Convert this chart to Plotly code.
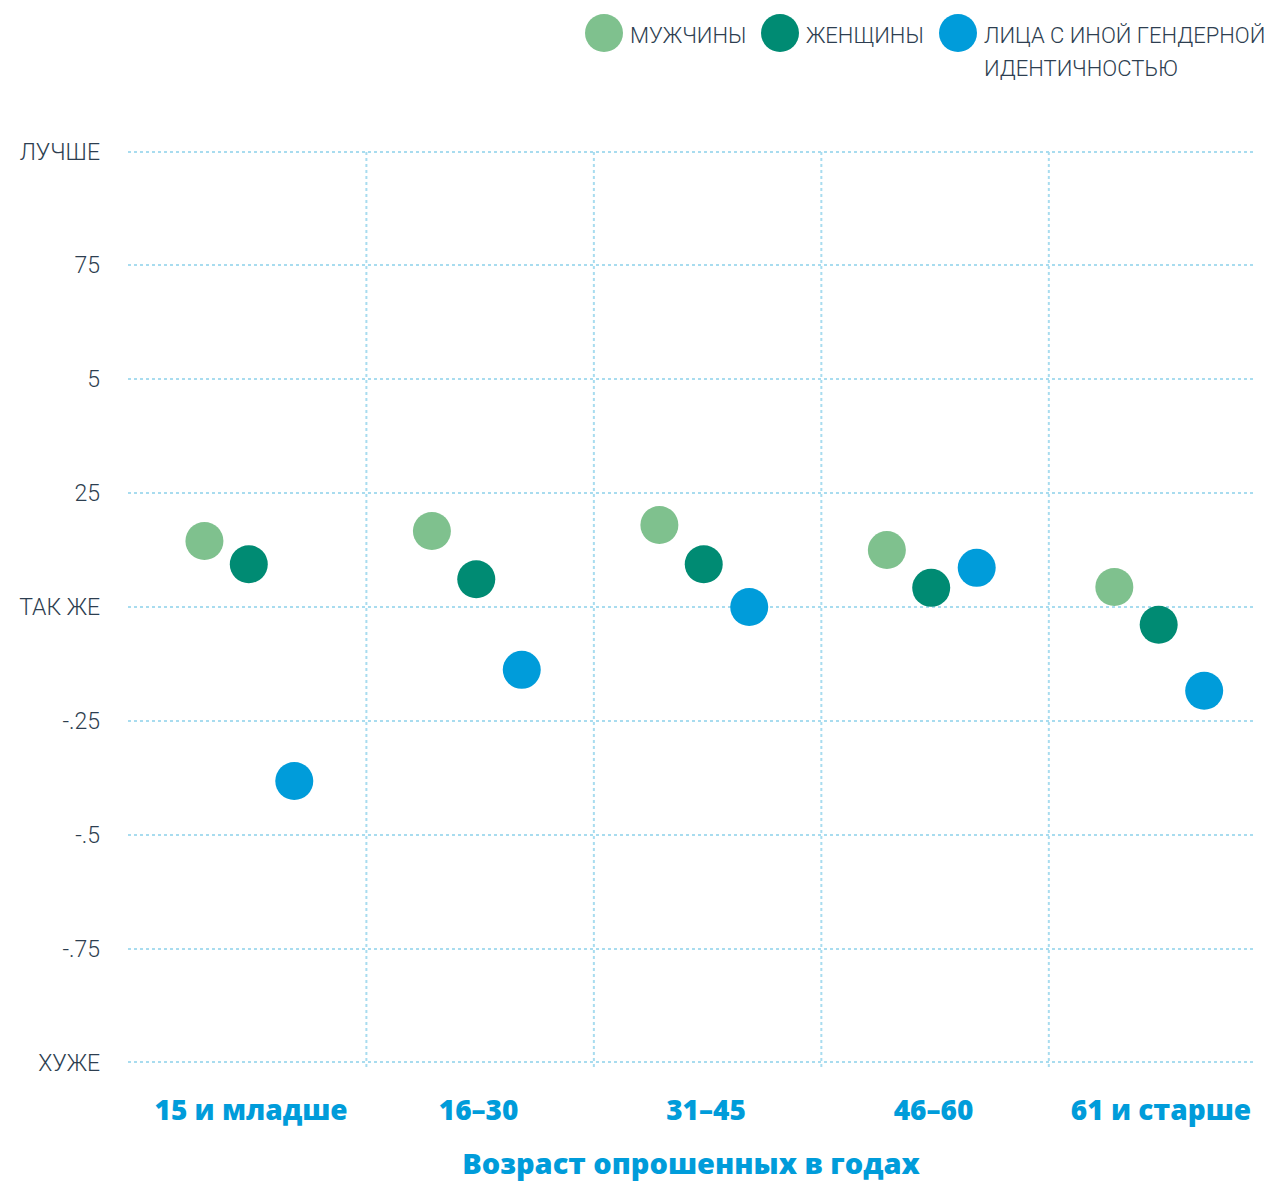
import plotly.graph_objects as go

categories = ["15 и младше", "16–30", "31–45", "46–60", "61 и старше"]
series_names = ["МУЖЧИНЫ", "ЖЕНЩИНЫ", "ЛИЦА С ИНОЙ ГЕНДЕРНОЙ<br>ИДЕНТИЧНОСТЬЮ"]
men = [0.145, 0.167, 0.180, 0.125, 0.044]
women = [0.094, 0.061, 0.094, 0.042, -0.039]
other = [-0.382, -0.138, 0.000, 0.086, -0.184]
y_tickvals = [1, 0.75, 0.5, 0.25, 0, -0.25, -0.5, -0.75, -1]
y_ticktext = ["ЛУЧШЕ", "75", "5", "25", "ТАК ЖЕ", "-.25", "-.5", "-.75", "ХУЖЕ"]

colors = ["#7fc18e", "#008b73", "#009cda"]
offsets = [-0.205, -0.01, 0.19]
series = [men, women, other]

W, H = 1270, 1174
ML, MR, MT, MB = 120, 24, 139, 115
PW, PH = W - ML - MR, H - MT - MB
OFF = 8  # page body margin

tick_font = dict(family="Roboto, sans-serif", size=23, color="#2d3e50", weight=300)
leg_font = dict(family="Roboto, sans-serif", size=22, color="#2d3e50", weight=300)
bold_font = dict(family="Open Sans, sans-serif", size=28, color="#009cda", weight=800)
title_font = dict(family="Open Sans, sans-serif", size=29, color="#009cda", weight=800)

fig = go.Figure()
for vals, off, col, name in zip(series, offsets, colors, series_names):
    fig.add_trace(go.Scatter(
        x=[i + off for i in range(len(categories))], y=vals,
        mode="markers", name=name.replace("<br>", " "), showlegend=False,
        marker=dict(size=38, color=col, line=dict(width=0)),
    ))

# vertical dotted grid lines between categories
for i in range(len(categories) - 1):
    fig.add_shape(type="line", xref="x", yref="y", x0=i + 0.507, x1=i + 0.507,
                  y0=-1.01, y1=1.0, line=dict(color="#a8dcef", width=2, dash="dot"),
                  layer="below")


def px_x(px):
    return (px - OFF - ML) / PW


def px_y(py):
    return 1 + (MT - (py - OFF)) / PH


# custom legend (positions in page pixels)
leg_x = [604, 780, 958]
leg_cy = 33
for col, cx in zip(colors, leg_x):
    fig.add_shape(type="circle", xref="paper", yref="paper",
                  xsizemode="pixel", ysizemode="pixel",
                  xanchor=px_x(cx), yanchor=px_y(leg_cy),
                  x0=-19, x1=19, y0=-19, y1=19, fillcolor=col, line=dict(width=0))
for name, cx in zip(series_names, leg_x):
    lines = name.split("<br>")
    for k, line in enumerate(lines):
        fig.add_annotation(xref="paper", yref="paper",
                           x=px_x(cx + 24), y=px_y(35 + 33 * k),
                           text=line, showarrow=False, xanchor="left", yanchor="middle",
                           align="left", font=leg_font)

fig.update_layout(
    width=W, height=H,
    margin=dict(l=ML, r=MR, t=MT, b=MB, autoexpand=False),
    plot_bgcolor="white", paper_bgcolor="white",
    xaxis=dict(
        range=[-0.541, 4.409], tickvals=list(range(len(categories))), ticktext=categories,
        showgrid=False, zeroline=False, showline=False, ticks="", automargin=False,
        tickfont=bold_font, ticklabelstandoff=24,
        title=dict(text="Возраст опрошенных в годах", font=title_font, standoff=28),
    ),
    yaxis=dict(
        range=[-1.01, 1.01], tickvals=y_tickvals, ticktext=y_ticktext, automargin=False,
        showgrid=True, gridcolor="#a8dcef", gridwidth=2, griddash="dot",
        zeroline=False, showline=False, ticks="", ticklabelstandoff=27,
        tickfont=tick_font,
    ),
)

fig.write_html("out.html")
